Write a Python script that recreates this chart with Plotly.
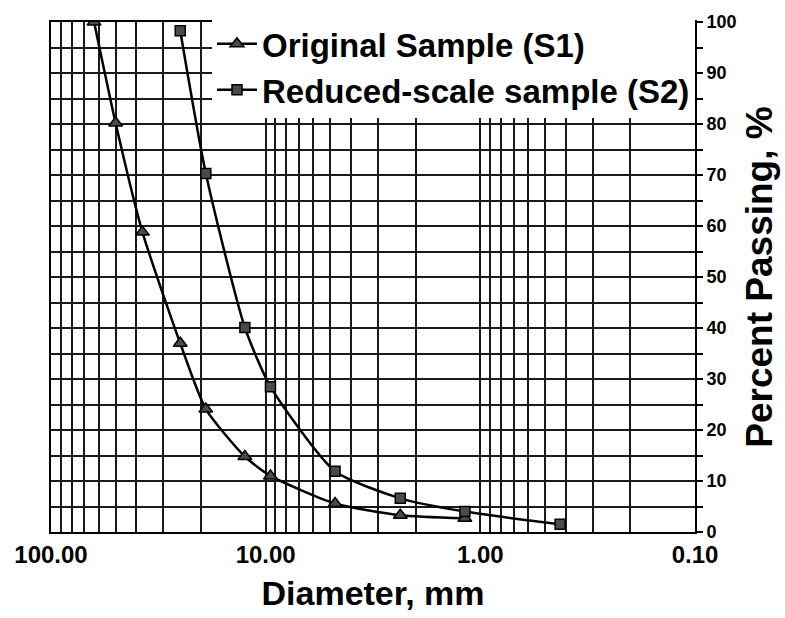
import plotly.graph_objects as go

# Data
s1_diam = [63, 50, 37.5, 25, 19, 12.5, 9.5, 4.75, 2.36, 1.18]
s1_pass = [100, 80.2, 58.8, 37.0, 24.1, 14.8, 11.0, 5.6, 3.3, 2.7]
s2_diam = [25, 19, 12.5, 9.5, 4.75, 2.36, 1.18, 0.425]
s2_pass = [98.3, 70.3, 40.1, 28.5, 11.9, 6.6, 4.0, 1.5]

x_major = [100, 10, 1, 0.1]
x_major_text = ["100.00", "10.00", "1.00", "0.10"]
x_minor = [m * d for d in (10, 1, 0.1) for m in range(2, 10)]

FONT = "Liberation Sans"

fig = go.Figure()
fig.add_trace(go.Scatter(
    x=s1_diam, y=s1_pass, mode="lines+markers", name="Original Sample (S1)",
    line=dict(color="black", width=2.5, shape="spline", smoothing=0.6),
    marker=dict(symbol="triangle-up", size=12, color="#4a4a4a",
                line=dict(color="black", width=1.5)),
))
fig.add_trace(go.Scatter(
    x=s2_diam, y=s2_pass, mode="lines+markers", name="Reduced-scale sample (S2)",
    line=dict(color="black", width=2.5, shape="spline", smoothing=0.6),
    marker=dict(symbol="square", size=10, color="#4a4a4a",
                line=dict(color="black", width=1.5)),
))

fig.update_layout(
    width=785, height=618,
    margin=dict(l=51, r=90, t=13, b=86),
    paper_bgcolor="white", plot_bgcolor="white",
    font=dict(family=FONT, color="black", weight="bold"),
    showlegend=True,
    legend=dict(
        x=1, y=1.012, xanchor="right", yanchor="top",
        bgcolor="white", borderwidth=0,
        font=dict(family=FONT, size=33, color="black", weight="bold"),
        itemwidth=40, tracegroupgap=0,
    ),
    xaxis=dict(
        type="log", range=[2, -1],
        tickvals=x_major, ticktext=x_major_text,
        tickfont=dict(family=FONT, size=24, weight="bold"),
        showgrid=True, gridcolor="#1a1a1a", gridwidth=1.5,
        minor=dict(tickvals=x_minor, showgrid=True, gridcolor="#1a1a1a",
                   gridwidth=1.5, ticks=""),
        showline=True, linecolor="black", linewidth=2, mirror=True,
        ticks="", zeroline=False,
        title=dict(text="Diameter, mm", standoff=14,
                   font=dict(family=FONT, size=34, weight="bold")),
    ),
    yaxis=dict(
        side="right", range=[0, 100], dtick=10,
        tickfont=dict(family=FONT, size=18, weight="bold"),
        showgrid=True, gridcolor="#1a1a1a", gridwidth=1.5,
        minor=dict(dtick=5, showgrid=True, gridcolor="#1a1a1a", gridwidth=1.5,
                   ticks="outside", ticklen=6, tickcolor="black", tickwidth=1.5),
        ticks="outside", ticklen=6, tickcolor="black", tickwidth=1.5,
        showline=True, linecolor="black", linewidth=2, mirror=True,
        zeroline=False,
        title=dict(text="Percent Passing, %", standoff=10,
                   font=dict(family=FONT, size=37, weight="bold")),
    ),
)

fig.write_html("out.html")
